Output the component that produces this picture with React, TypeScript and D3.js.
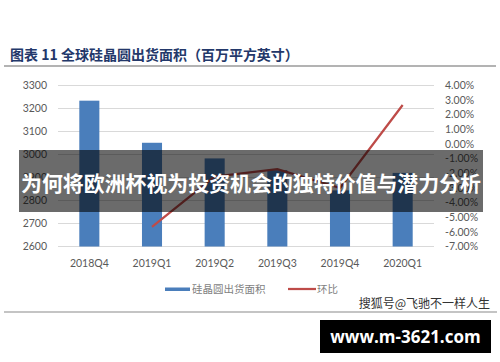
import React from "react";
import * as d3 from "d3";

const quarters = ["2018Q4", "2019Q1", "2019Q2", "2019Q3", "2019Q4", "2020Q1"];
const shipmentArea = [3234, 3051, 2983, 2932, 2844, 2920];
const qoqChange = [null, -5.66, -2.23, -1.71, -3.0, 2.67];
const leftTicks = [2600, 2700, 2800, 2900, 3000, 3100, 3200, 3300];
const rightTicks = [4, 3, 2, 1, 0, -1, -2, -3, -4, -5, -6, -7];

const W = 500;
const H = 362;
const plotLeft = 58;
const plotRight = 434;
const plotTop = 85.5;
const plotBottom = 246.5;

const axisFont = "Lato, 'Open Sans', sans-serif";
const cjkFont = "'Noto Sans CJK SC', sans-serif";

export default function App() {
  const x = d3
    .scaleBand<string>()
    .domain(quarters)
    .range([plotLeft, plotRight])
    .paddingInner(0.68)
    .paddingOuter(0.34);
  const yL = d3.scaleLinear().domain([2600, 3300]).range([plotBottom, plotTop]);
  const yR = d3.scaleLinear().domain([-7, 4]).range([plotBottom, plotTop]);

  const center = (q: string) => (x(q) ?? 0) + x.bandwidth() / 2;

  const linePts = quarters
    .map((q, i) => ({ q, v: qoqChange[i] }))
    .filter((d) => d.v !== null) as { q: string; v: number }[];
  const linePath = d3
    .line<{ q: string; v: number }>()
    .x((d) => center(d.q))
    .y((d) => yR(d.v))(linePts);

  return (
    <svg
      width={W}
      height={H}
      style={{ position: "absolute", left: 0, top: 0, background: "#fff" }}
    >
      <rect x={0} y={0} width={W} height={H} fill="#fff" />

      {/* heading */}
      <text
        x={10}
        y={60}
        fontFamily={cjkFont}
        fontWeight={700}
        fontSize={14}
        fill="#23386a"
      >
        图表 11 全球硅晶圆出货面积（百万平方英寸）
      </text>
      <line x1={4} x2={496} y1={66} y2={66} stroke="#9a9a9a" strokeWidth={1.5} />

      {/* gridlines */}
      {leftTicks.map((t) => (
        <line
          key={t}
          x1={plotLeft}
          x2={plotRight}
          y1={yL(t)}
          y2={yL(t)}
          stroke="#d9d9d9"
          strokeWidth={1}
        />
      ))}

      {/* left axis */}
      {leftTicks.map((t) => (
        <text
          key={t}
          x={47}
          y={yL(t)}
          dy="0.35em"
          textAnchor="end"
          fontFamily={axisFont}
          fontSize={10.5}
          fill="#595959"
        >
          {t}
        </text>
      ))}

      {/* right axis */}
      {rightTicks.map((t) => (
        <text
          key={t}
          x={445}
          y={yR(t)}
          dy="0.35em"
          fontFamily={axisFont}
          fontSize={10.5}
          fill="#595959"
        >
          {t.toFixed(2) + "%"}
        </text>
      ))}

      {/* bars */}
      {quarters.map((q, i) => (
        <rect
          key={q}
          x={x(q)}
          y={yL(shipmentArea[i])}
          width={x.bandwidth()}
          height={yL(2600) - yL(shipmentArea[i])}
          fill="#4a7ebb"
        />
      ))}

      {/* quarter-on-quarter line */}
      <path d={linePath ?? ""} fill="none" stroke="#be4b48" strokeWidth={2.25} />

      {/* category labels */}
      {quarters.map((q) => (
        <text
          key={q}
          x={center(q)}
          y={267}
          textAnchor="middle"
          fontFamily={axisFont}
          fontSize={10.5}
          fill="#595959"
        >
          {q}
        </text>
      ))}

      {/* legend */}
      <rect x={165} y={287.5} width={25} height={3.5} fill="#4a7ebb" />
      <text x={192} y={293} fontFamily={cjkFont} fontSize={10.5} fill="#7f7f7f">
        硅晶圆出货面积
      </text>
      <line x1={288} x2={316} y1={289} y2={289} stroke="#be4b48" strokeWidth={2.25} />
      <text x={317} y={293} fontFamily={cjkFont} fontSize={10.5} fill="#7f7f7f">
        环比
      </text>

      <text
        x={490}
        y={308}
        textAnchor="end"
        fontFamily={cjkFont}
        fontSize={12}
        fill="#333"
      >
        搜狐号@飞驰不一样人生
      </text>
      <line x1={4} x2={497} y1={312} y2={312} stroke="#8a8a8a" strokeWidth={1.2} />

      {/* overlay banner */}
      <rect x={19} y={150} width={464} height={62} fill="rgba(0,0,0,0.58)" />
      <text
        x={251}
        y={190.5}
        textAnchor="middle"
        fontFamily={cjkFont}
        fontWeight={700}
        fontSize={21}
        textLength={460}
        lengthAdjust="spacingAndGlyphs"
        fill="#fff"
      >
        为何将欧洲杯视为投资机会的独特价值与潜力分析
      </text>

      {/* site badge */}
      <rect x={320} y={320} width={171} height={33} fill="#000" />
      <text
        x={405.5}
        y={342.5}
        textAnchor="middle"
        fontFamily="'Open Sans', sans-serif"
        fontWeight={700}
        fontSize={17}
        fill="#fff"
      >
        www.m-3621.com
      </text>
    </svg>
  );
}
